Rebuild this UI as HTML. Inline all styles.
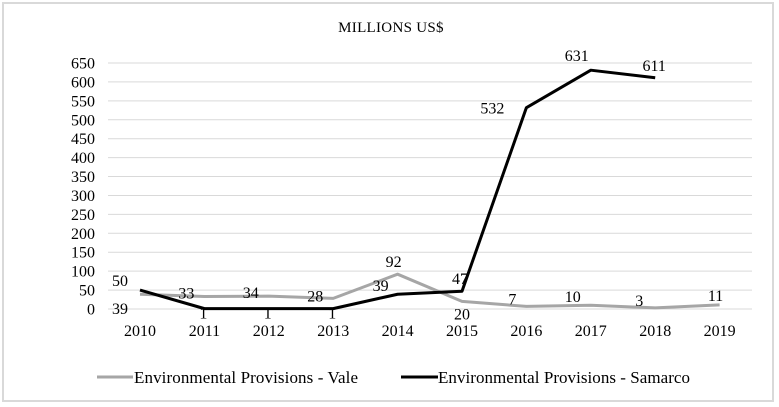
<!DOCTYPE html>
<html><head><meta charset="utf-8"><style>
body{margin:0;background:#fff;}
svg{display:block;font-family:"Liberation Serif",serif;}
</style></head><body>
<svg id="chart" width="779" height="407" viewBox="0 0 779 407">
<rect x="3" y="3" width="770" height="398" fill="#fff" stroke="#d9d9d9" stroke-width="2"/>
<text x="391" y="32" text-anchor="middle" font-size="15" letter-spacing="0.3" fill="#000">MILLIONS  US$</text>
<g id="grid"></g><g id="series"></g><g id="labels"></g>
<g>
<line x1="97" y1="377" x2="133" y2="377" stroke="#a6a6a6" stroke-width="3"/>
<text x="134" y="383" font-size="17" textLength="224">Environmental Provisions - Vale</text>
<line x1="401" y1="377" x2="438" y2="377" stroke="#000" stroke-width="3"/>
<text x="438" y="383" font-size="17" textLength="252">Environmental Provisions - Samarco</text>
</g>
</svg>
<script>
const years=["2010","2011","2012","2013","2014","2015","2016","2017","2018","2019"];
const vale=[39,33,34,28,92,20,7,10,3,11];
const samarco=[50,1,1,1,39,47,532,631,611];
const yTicks=[0,50,100,150,200,250,300,350,400,450,500,550,600,650];
const NS="http://www.w3.org/2000/svg";
const x=i=>140+i*64.4;
const y=v=>309-v*(246/650);
function mk(tag,attrs,parent){const e=document.createElementNS(NS,tag);for(const k in attrs)e.setAttribute(k,attrs[k]);parent.appendChild(e);return e;}
const grid=document.getElementById('grid'),ser=document.getElementById('series'),lab=document.getElementById('labels');
yTicks.forEach(t=>{
 const l=mk('line',{x1:108,x2:752,y1:y(t),y2:y(t),stroke:'#d9d9d9','stroke-width':1},grid);
 
 
 const tx=mk('text',{x:95,y:y(t)+5.5,'text-anchor':'end','font-size':16},grid);
 tx.textContent=t;
 
 
});
years.forEach((yr,i)=>{
 const tx=mk('text',{x:x(i),y:336,'text-anchor':'middle','font-size':16},grid);
 tx.textContent=yr;
 
 
});
const pv=mk('polyline',{points:vale.map((v,i)=>x(i)+','+y(v)).join(' '),fill:'none',stroke:'#a6a6a6','stroke-width':3,'stroke-linejoin':'round'},ser);


const ps=mk('polyline',{points:samarco.map((v,i)=>x(i)+','+y(v)).join(' '),fill:'none',stroke:'#000','stroke-width':3,'stroke-linejoin':'round'},ser);


const valeOff=[[-20,20],[-18,2],[-18,2],[-18,3],[-4,-7],[0,18],[-14,-2],[-18,-3],[-16,-2],[-4,-4]];
const samOff=[[-20,-4],[-1,10],[-1,10],[-1,10],[-17,-3],[-2,-7],[-34,6],[-14,-9],[-1,-7]];
vale.forEach((v,i)=>{
 const tx=mk('text',{x:x(i)+valeOff[i][0],y:y(v)+valeOff[i][1],'text-anchor':'middle','font-size':16},lab);
 tx.textContent=v;
 
 
});
samarco.forEach((v,i)=>{
 const tx=mk('text',{x:x(i)+samOff[i][0],y:y(v)+samOff[i][1],'text-anchor':'middle','font-size':16},lab);
 tx.textContent=v;
 
 
});
</script>
</body></html>
